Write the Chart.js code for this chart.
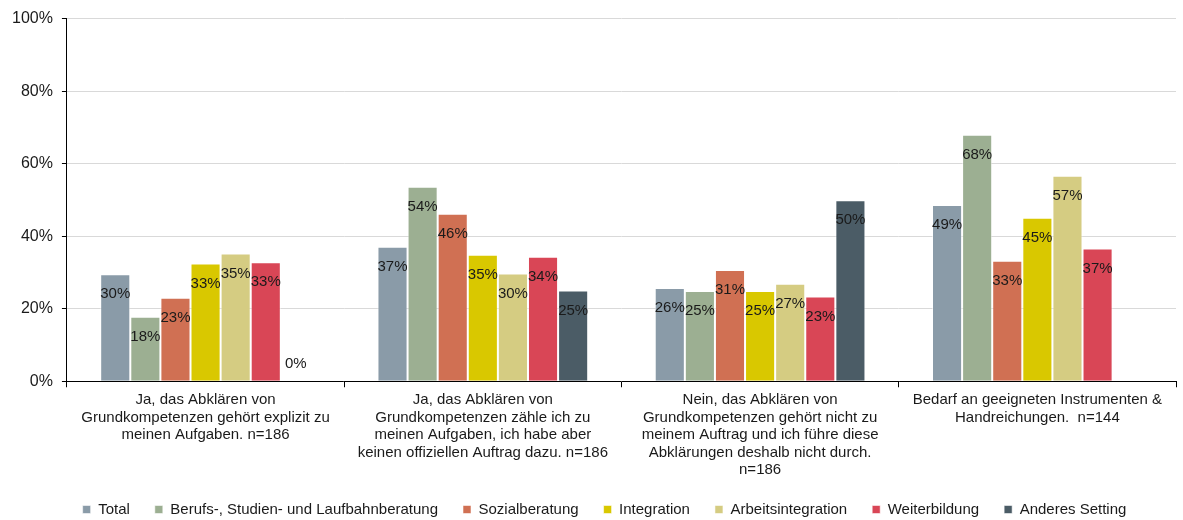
<!DOCTYPE html>
<html>
<head>
<meta charset="utf-8">
<script src="https://cdn.jsdelivr.net/npm/chart.js@4/dist/chart.umd.min.js"></script>
<style>
  html, body { margin: 0; padding: 0; background: #fff; }
  #wrap { width: 1183px; height: 520px; position: relative; }
</style>
</head>
<body>
<div id="wrap"><canvas id="chart"></canvas></div>
<script>
  // Categories (x axis labels, already broken into lines)
  const categories = [
    ['Ja, das Abklären von', 'Grundkompetenzen gehört explizit zu', 'meinen Aufgaben. n=186'],
    ['Ja, das Abklären von', 'Grundkompetenzen zähle ich zu', 'meinen Aufgaben, ich habe aber', 'keinen offiziellen Auftrag dazu. n=186'],
    ['Nein, das Abklären von', 'Grundkompetenzen gehört nicht zu', 'meinem Auftrag und ich führe diese', 'Abklärungen deshalb nicht durch.', 'n=186'],
    ['Bedarf an geeigneten Instrumenten &', 'Handreichungen.  n=144']
  ];

  // Series values in percent
  const total = [29.5, 37.1, 25.7, 48.6];
  const berufs = [17.8, 53.6, 24.9, 68.0];
  const sozial = [23.0, 46.2, 30.7, 33.2];
  const integration = [32.5, 34.9, 24.9, 45.1];
  const arbeitsintegration = [35.2, 29.7, 26.9, 56.7];
  const weiterbildung = [32.8, 34.3, 23.4, 36.6];
  const anderes = [0, 25.0, 49.9, null];

  const yTicks = [0, 20, 40, 60, 80, 100];

  const font = 'Liberation Sans';

  function ds(label, data, color) {
    return {
      label: label,
      data: data,
      backgroundColor: color,
      borderColor: 'rgba(255,255,255,0.55)',
      borderWidth: 1,
      categoryPercentage: 0.76,
      barPercentage: 1.0
    };
  }

  // value labels drawn inside the top of each bar
  const valueLabels = {
    id: 'valueLabels',
    afterDatasetsDraw(chart) {
      const ctx = chart.ctx;
      const base = chart.scales.y.getPixelForValue(0);
      ctx.save();
      ctx.font = '15px "' + font + '"';
      ctx.fillStyle = '#1a1a1a';
      ctx.textAlign = 'center';
      ctx.textBaseline = 'middle';
      chart.data.datasets.forEach(function (d, i) {
        const meta = chart.getDatasetMeta(i);
        meta.data.forEach(function (bar, j) {
          const v = d.data[j];
          if (v === null || v === undefined) return;
          const y = v === 0 ? base - 17 : bar.y + 20;
          ctx.fillText(Math.round(v) + '%', bar.x, y);
        });
      });
      ctx.restore();
    }
  };

  // tighten the legend box and nudge it right like the original
  const legendTweak = {
    id: 'legendTweak',
    beforeInit(chart) {
      const fit = chart.legend.fit;
      chart.legend.fit = function () {
        fit.call(this);
        this.height -= 7;
      };
    },
    afterLayout(chart) {
      chart.legend.left += 30;
    }
  };

  new Chart(document.getElementById('chart'), {
    type: 'bar',
    data: {
      labels: categories,
      datasets: [
        ds('Total', total, '#8a9ba8'),
        ds('Berufs-, Studien- und Laufbahnberatung', berufs, '#9caf92'),
        ds('Sozialberatung', sozial, '#d07053'),
        ds('Integration', integration, '#d9c800'),
        ds('Arbeitsintegration', arbeitsintegration, '#d5cc82'),
        ds('Weiterbildung', weiterbildung, '#d94656'),
        ds('Anderes Setting', anderes, '#4b5c66')
      ]
    },
    options: {
      responsive: true,
      maintainAspectRatio: false,
      animation: false,
      layout: { padding: { top: 12, right: 7, left: 3, bottom: 0 } },
      plugins: {
        tooltip: { enabled: false },
        legend: {
          position: 'bottom',
          labels: {
            font: { family: font, size: 15 },
            color: '#1a1a1a',
            boxWidth: 8,
            boxHeight: 8,
            padding: 25,
            useBorderRadius: false
          }
        }
      },
      scales: {
        x: {
          grid: {
            offset: true,
            drawOnChartArea: false,
            drawTicks: true,
            tickLength: 6,
            color: '#000'
          },
          border: { color: '#000', width: 1 },
          ticks: {
            font: { family: font, size: 15, lineHeight: 1.17 },
            color: '#1a1a1a',
            maxRotation: 0,
            autoSkip: false,
            padding: 4
          },
          afterFit: function (scale) {
            scale.height -= 6;
          }
        },
        y: {
          min: 0,
          max: 100,
          afterBuildTicks: function (axis) {
            axis.ticks = yTicks.map(function (v) { return { value: v }; });
          },
          grid: {
            color: '#d9d9d9',
            tickColor: '#000',
            tickLength: 5,
            lineWidth: 1
          },
          border: { color: '#000', width: 1 },
          ticks: {
            font: { family: font, size: 16 },
            color: '#1a1a1a',
            padding: 9,
            callback: function (v) { return v + '%'; }
          }
        }
      }
    },
    plugins: [valueLabels, legendTweak]
  });
</script>
</body>
</html>
